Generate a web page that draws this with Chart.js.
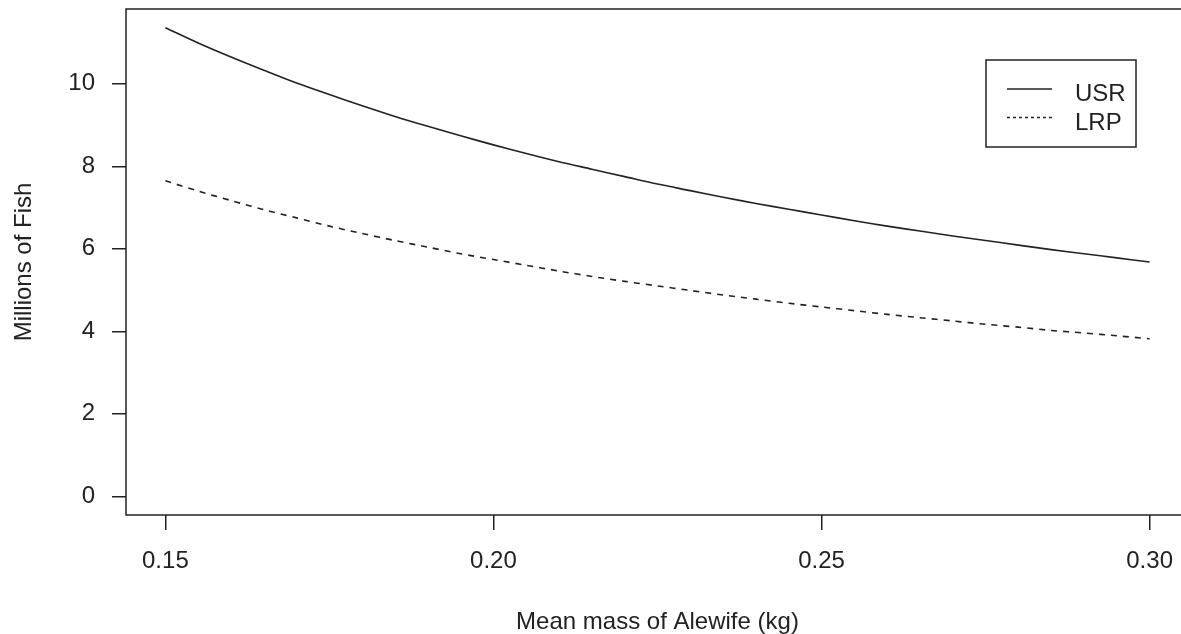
<!DOCTYPE html>
<html>
<head>
<meta charset="utf-8">
<title>USR and LRP vs mean mass of Alewife</title>
<script src="https://cdn.jsdelivr.net/npm/chart.js@4.4.1/dist/chart.umd.min.js"></script>
<style>
  html, body { margin: 0; padding: 0; background: #fff; overflow: hidden; }
  #wrap { width: 1200px; height: 634px; }
</style>
</head>
<body>
<div id="wrap"><canvas id="chart" width="1200" height="634"></canvas></div>
<script>
// --- data ---
const massKg = [0.150, 0.155, 0.160, 0.165, 0.170, 0.175, 0.180, 0.185, 0.190, 0.195,
                0.200, 0.205, 0.210, 0.215, 0.220, 0.225, 0.230, 0.235, 0.240, 0.245,
                0.250, 0.255, 0.260, 0.265, 0.270, 0.275, 0.280, 0.285, 0.290, 0.295, 0.300];

const usrMillions = [11.36, 10.99, 10.65, 10.33, 10.02, 9.74, 9.47, 9.21, 8.97, 8.74,
                     8.52, 8.31, 8.11, 7.93, 7.75, 7.57, 7.41, 7.25, 7.10, 6.96,
                     6.82, 6.68, 6.55, 6.43, 6.31, 6.20, 6.09, 5.98, 5.88, 5.78, 5.68];

const lrpMillions = [7.65, 7.40, 7.17, 6.95, 6.75, 6.55, 6.37, 6.20, 6.04, 5.88,
                     5.74, 5.60, 5.46, 5.33, 5.21, 5.10, 4.99, 4.88, 4.78, 4.68,
                     4.59, 4.50, 4.41, 4.33, 4.25, 4.17, 4.10, 4.02, 3.96, 3.89, 3.82];

const xTicks = [0.15, 0.20, 0.25, 0.30];
const yTicks = [0, 2, 4, 6, 8, 10];

// R-style axis range: data range plus 4% each side
const xPad = (0.30 - 0.15) * 0.04;
const yMaxData = Math.max(...usrMillions);
const yPad = yMaxData * 0.04;

const FONT = 'Arial, "Liberation Sans", Helvetica, sans-serif';
const INK = '#222';

function toPoints(ys) {
  return massKg.map((x, i) => ({ x: x, y: ys[i] }));
}

// --- plot frame (R's box()) ---
const boxPlugin = {
  id: 'rbox',
  afterDraw(chart) {
    const a = chart.chartArea, ctx = chart.ctx;
    ctx.save();
    ctx.strokeStyle = INK;
    ctx.lineWidth = 1.5;
    ctx.strokeRect(a.left, a.top, a.right - a.left, a.bottom - a.top);
    ctx.restore();
  }
};

// --- legend box in the top-right, like legend("topright", inset) ---
const legendPlugin = {
  id: 'rlegend',
  afterDraw(chart) {
    const ctx = chart.ctx;
    const bx = 986, by = 60, bw = 150, bh = 87;
    ctx.save();
    ctx.strokeStyle = INK;
    ctx.lineWidth = 1.5;
    ctx.strokeRect(bx, by, bw, bh);
    ctx.font = '24px ' + FONT;
    ctx.fillStyle = INK;
    ctx.textBaseline = 'alphabetic';
    chart.data.datasets.forEach((ds, i) => {
      const ly = 89 + i * 28.5;
      ctx.beginPath();
      ctx.setLineDash(ds.borderDash && ds.borderDash.length ? [3, 3] : []);
      ctx.lineWidth = 1.5;
      ctx.moveTo(1007, ly);
      ctx.lineTo(1052, ly);
      ctx.stroke();
      ctx.setLineDash([]);
      ctx.fillText(ds.label, 1075, ly + 12);
    });
    ctx.restore();
  }
};

new Chart(document.getElementById('chart'), {
  type: 'line',
  data: {
    datasets: [
      { label: 'USR', data: toPoints(usrMillions), borderColor: INK, borderWidth: 1.6,
        pointRadius: 0, tension: 0.3, fill: false },
      { label: 'LRP', data: toPoints(lrpMillions), borderColor: INK, borderWidth: 1.6,
        borderDash: [6, 6], pointRadius: 0, tension: 0.3, fill: false }
    ]
  },
  options: {
    responsive: false,
    animation: false,
    layout: { padding: { top: 9, right: 11, left: 0, bottom: 0 } },
    plugins: { legend: { display: false }, tooltip: { enabled: false } },
    scales: {
      x: {
        type: 'linear',
        min: 0.15 - xPad,
        max: 0.30 + xPad,
        afterBuildTicks(scale) { scale.ticks = xTicks.map(v => ({ value: v })); },
        afterFit(scale) { scale.height = 119; scale.paddingLeft = 0; scale.paddingRight = 0; },
        grid: { drawOnChartArea: false, drawTicks: true, tickLength: 15, color: INK, lineWidth: 1.5 },
        border: { display: false },
        ticks: { color: INK, font: { family: FONT, size: 24 }, padding: 17,
                 maxRotation: 0, callback: v => v.toFixed(2) },
        title: { display: true, text: 'Mean mass of Alewife (kg)', color: INK,
                 font: { family: FONT, size: 24, lineHeight: 1 }, padding: { top: 0, bottom: 0 } }
      },
      y: {
        min: -yPad,
        max: yMaxData + yPad,
        afterBuildTicks(scale) { scale.ticks = yTicks.map(v => ({ value: v })); },
        afterFit(scale) { scale.width = 126; scale.paddingTop = 0; scale.paddingBottom = 0; },
        grid: { drawOnChartArea: false, drawTicks: true, tickLength: 14, color: INK, lineWidth: 1.5 },
        border: { display: false },
        ticks: { color: INK, font: { family: FONT, size: 24 }, padding: 17 },
        title: { display: true, text: 'Millions of Fish', color: INK,
                 font: { family: FONT, size: 24, lineHeight: 1 }, padding: { top: 12, bottom: 0 } }
      }
    }
  },
  plugins: [boxPlugin, legendPlugin]
});
</script>
</body>
</html>
